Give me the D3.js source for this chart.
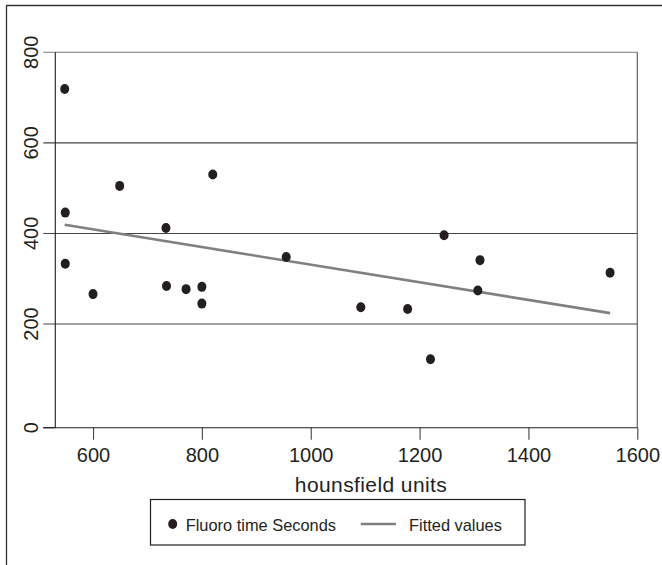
<!DOCTYPE html>
<html>
<head>
<meta charset="utf-8">
<script src="https://cdn.jsdelivr.net/npm/d3@7/dist/d3.min.js"></script>
<style>
  body { margin: 0; background: #fff; }
  svg { display: block; font-family: "Liberation Sans", Arial, Helvetica, sans-serif; }
</style>
</head>
<body>
<div id="chart"></div>
<script>
// data
const hounsfield = [548, 549, 549, 600, 649, 734, 735, 771, 800, 800, 820, 955, 1092, 1178, 1220, 1245, 1307, 1311, 1550];
const fluoroTime = [719, 446, 333, 266, 505, 412, 284, 277, 282, 245, 530, 348, 237, 233, 132, 396, 274, 341, 313];
const fitX = [548, 1550];
const fitY = [419, 224];
const xTicks = [600, 800, 1000, 1200, 1400, 1600];
const yTicks = [0, 200, 400, 600, 800];
const seriesNames = ["Fluoro time Seconds", "Fitted values"];

const width = 662, height = 565;
const plotL = 55.3, plotR = 637.3, plotT = 52.3, plotB = 427.7;
const ink = "#231f20";

const svg = d3.select("#chart").append("svg")
  .attr("width", width)
  .attr("height", height);

svg.append("rect").attr("width", width).attr("height", height).attr("fill", "#fff");

// outer frame (only top and left show in the crop)
svg.append("path")
  .attr("d", `M6.5,${height} V5.5 H${width}`)
  .attr("fill", "none")
  .attr("stroke", "#333")
  .attr("stroke-width", 1.3);

const x = d3.scaleLinear().domain([530.7, 1600]).range([plotL, plotR]);
// the printed axis puts 0 further down than the even 200-spacing
const y = d3.scaleLinear().domain([0, 200, 800]).range([plotB, 324, plotT]);

// grid lines (with the tick stub on the left)
const grid = svg.append("g");
yTicks.filter(v => v > 0).forEach(v => {
  grid.append("line")
    .attr("x1", plotL - 12).attr("x2", plotR)
    .attr("y1", y(v)).attr("y2", y(v))
    .attr("stroke", v === 800 ? "#7a7a7a" : "#444")
    .attr("stroke-width", 1.1);
});

// y tick at 0
svg.append("line")
  .attr("x1", plotL - 12).attr("x2", plotL)
  .attr("y1", y(0)).attr("y2", y(0))
  .attr("stroke", ink).attr("stroke-width", 1.1);

// plot sides
svg.append("line")
  .attr("x1", plotL).attr("x2", plotL)
  .attr("y1", plotT).attr("y2", plotB)
  .attr("stroke", ink).attr("stroke-width", 1.1);
svg.append("line")
  .attr("x1", plotR).attr("x2", plotR)
  .attr("y1", plotT).attr("y2", plotB)
  .attr("stroke", "#555").attr("stroke-width", 1.1);

// x axis
const xAxis = svg.append("g")
  .attr("transform", `translate(0,${plotB})`)
  .call(d3.axisBottom(x).tickValues(xTicks).tickFormat(d3.format("d"))
    .tickSize(12).tickPadding(8).tickSizeOuter(0));
xAxis.select(".domain").remove();
xAxis.append("line")
  .attr("x1", plotL - 12).attr("x2", plotR)
  .attr("stroke", ink).attr("stroke-width", 1.1);
xAxis.selectAll(".tick line").attr("stroke", "#444").attr("stroke-width", 1.1);
xAxis.selectAll(".tick text")
  .attr("fill", ink)
  .style("font-family", "Liberation Sans, Arial, sans-serif")
  .style("font-size", "20px");

// y labels, rotated
yTicks.forEach(v => {
  svg.append("text")
    .attr("transform", `translate(38.3,${y(v)}) rotate(-90)`)
    .attr("text-anchor", "middle")
    .attr("fill", ink)
    .style("font-size", "20px")
    .text(v);
});

// x title
svg.append("text")
  .attr("x", 371).attr("y", 491.7)
  .attr("text-anchor", "middle")
  .attr("fill", ink)
  .style("font-size", "21px")
  .style("letter-spacing", "0.4px")
  .text("hounsfield units");

// fitted line
svg.append("path")
  .datum(d3.zip(fitX, fitY))
  .attr("d", d3.line().x(d => x(d[0])).y(d => y(d[1])))
  .attr("fill", "none")
  .attr("stroke", "#808080")
  .attr("stroke-width", 2.6);

// points
svg.append("g").selectAll("ellipse")
  .data(d3.zip(hounsfield, fluoroTime))
  .join("ellipse")
  .attr("cx", d => x(d[0]))
  .attr("cy", d => y(d[1]))
  .attr("rx", 4.5)
  .attr("ry", 5)
  .attr("fill", ink);

// legend
const lg = svg.append("g");
lg.append("rect")
  .attr("x", 150.5).attr("y", 499.5)
  .attr("width", 374.5).attr("height", 45.5)
  .attr("fill", "#fff")
  .attr("stroke", ink)
  .attr("stroke-width", 1.2);
lg.append("ellipse")
  .attr("cx", 172.7).attr("cy", 524)
  .attr("rx", 4.5).attr("ry", 5)
  .attr("fill", ink);
lg.append("text")
  .attr("x", 185.7).attr("y", 531)
  .attr("fill", ink)
  .style("font-size", "16.4px")
  .text(seriesNames[0]);
lg.append("line")
  .attr("x1", 360.7).attr("x2", 396)
  .attr("y1", 524).attr("y2", 524)
  .attr("stroke", "#808080")
  .attr("stroke-width", 2.6);
lg.append("text")
  .attr("x", 409).attr("y", 531)
  .attr("fill", ink)
  .style("font-size", "16.4px")
  .text(seriesNames[1]);
</script>
</body>
</html>
